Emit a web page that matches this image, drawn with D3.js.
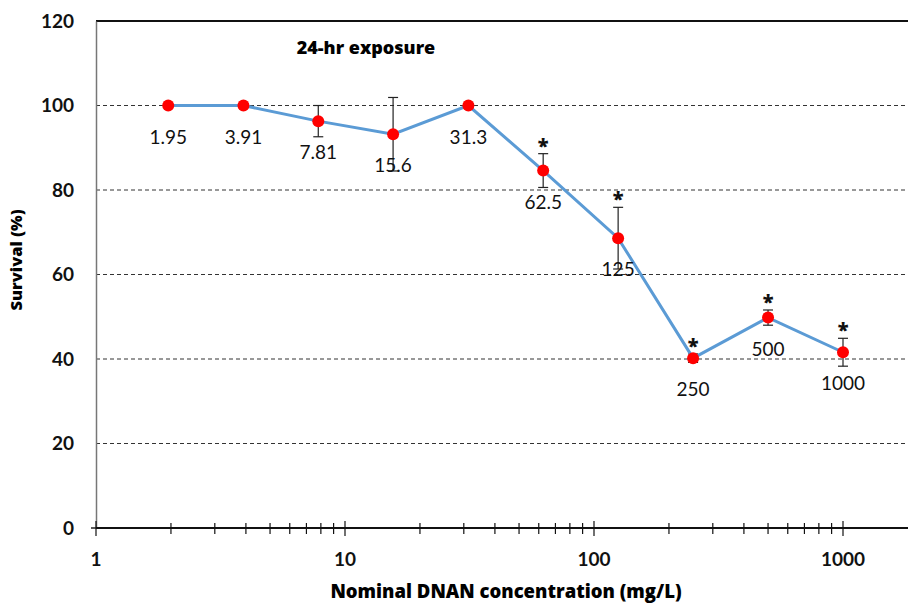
<!DOCTYPE html>
<html>
<head>
<meta charset="utf-8">
<script src="https://cdn.jsdelivr.net/npm/d3@7"></script>
<style>
  body { margin: 0; background: #fff; }
  svg { display: block; }
</style>
</head>
<body>
<div id="chart"></div>
<script>
// Data --------------------------------------------------
const conc = [1.95, 3.91, 7.81, 15.6, 31.3, 62.5, 125, 250, 500, 1000];
const concLabels = ["1.95", "3.91", "7.81", "15.6", "31.3", "62.5", "125", "250", "500", "1000"];
const survival = [100, 100, 96.3, 93.2, 100, 84.6, 68.6, 40.2, 49.8, 41.6];
const errorBar = [0, 0, 3.7, 8.7, 0, 4.0, 7.3, 1.0, 1.8, 3.3];
const significant = [false, false, false, false, false, true, true, true, true, true];
const yTicks = [0, 20, 40, 60, 80, 100, 120];
const xTicks = [1, 10, 100, 1000];

// Layout ------------------------------------------------
const W = 908, H = 603;
const margin = { top: 21, left: 96, bottom: 75 };
const plotH = H - margin.top - margin.bottom;
const font = "Lato, 'Open Sans', sans-serif";
const titleFont = "'Open Sans', Lato, sans-serif";

const svg = d3.select("#chart").append("svg")
    .attr("width", W)
    .attr("height", H);

// log axis runs past the right edge, as in the original
const x = d3.scaleLog()
    .domain([1, 2000])
    .range([margin.left, margin.left + 249 * Math.log10(2000)]);
const y = d3.scaleLinear()
    .domain([0, 120])
    .range([margin.top + plotH, margin.top]);

// gridlines
svg.append("g")
    .selectAll("line")
    .data(yTicks.filter(d => d > 0 && d < 120))
    .enter().append("line")
    .attr("x1", margin.left).attr("x2", W)
    .attr("y1", d => y(d)).attr("y2", d => y(d))
    .attr("stroke", "#333")
    .attr("stroke-width", 1)
    .attr("stroke-dasharray", "4,3");

// top border (120 line)
svg.append("line")
    .attr("x1", margin.left).attr("x2", W)
    .attr("y1", y(120)).attr("y2", y(120))
    .attr("stroke", "#111")
    .attr("stroke-width", 2);

// y axis
const yAxis = svg.append("g")
    .attr("transform", "translate(" + margin.left + ",0)")
    .call(d3.axisLeft(y).tickValues(yTicks).tickSize(0).tickPadding(22));
yAxis.select(".domain").attr("stroke", "#777").attr("stroke-width", 1.5);
yAxis.selectAll("text")
    .style("font-family", font)
    .style("font-size", "19px")
    .style("font-weight", "bold")
    .attr("fill", "#111");
svg.append("line")
    .attr("x1", margin.left - 5).attr("x2", margin.left)
    .attr("y1", y(0)).attr("y2", y(0))
    .attr("stroke", "#222").attr("stroke-width", 1.5);

// x axis line with crossing ticks
const xAxisG = svg.append("g")
    .attr("transform", "translate(0," + y(0) + ")");
xAxisG.append("line")
    .attr("x1", margin.left).attr("x2", W)
    .attr("stroke", "#111").attr("stroke-width", 2);
const minorTicks = x.ticks().filter(d => d <= 1000);
xAxisG.selectAll(".tk")
    .data(minorTicks)
    .enter().append("line")
    .attr("class", "tk")
    .attr("x1", d => x(d)).attr("x2", d => x(d))
    .attr("y1", d => xTicks.includes(d) ? -7 : -5)
    .attr("y2", d => xTicks.includes(d) ? 8 : 6)
    .attr("stroke", "#111").attr("stroke-width", 1.2);
xAxisG.selectAll(".lbl")
    .data(xTicks)
    .enter().append("text")
    .attr("class", "lbl")
    .attr("x", d => x(d))
    .attr("y", 38)
    .attr("text-anchor", "middle")
    .style("font-family", font)
    .style("font-size", "19px")
    .style("font-weight", "bold")
    .attr("fill", "#111")
    .text(d => d);

// axis titles
svg.append("text")
    .attr("x", 506).attr("y", 598)
    .attr("text-anchor", "middle")
    .style("font-family", titleFont)
    .style("font-size", "18.5px")
    .style("font-weight", 800)
    .text("Nominal DNAN concentration (mg/L)");
svg.append("text")
    .attr("transform", "translate(22,260) rotate(-90)")
    .attr("text-anchor", "middle")
    .style("font-family", titleFont)
    .style("font-size", "16.5px")
    .style("font-weight", 800)
    .text("Survival (%)");

// chart title
svg.append("text")
    .attr("x", 366).attr("y", 54)
    .attr("text-anchor", "middle")
    .style("font-family", titleFont)
    .style("font-size", "18px")
    .style("font-weight", 800)
    .text("24-hr exposure");

const pts = conc.map((c, i) => ({ c: c, v: survival[i], e: errorBar[i], lab: concLabels[i], sig: significant[i] }));

// error bars
const eb = svg.append("g").selectAll("g")
    .data(pts.filter(d => d.e > 0))
    .enter().append("g")
    .attr("stroke", "#222").attr("stroke-width", 1.2);
eb.append("line")
    .attr("x1", d => x(d.c)).attr("x2", d => x(d.c))
    .attr("y1", d => y(d.v - d.e)).attr("y2", d => y(d.v + d.e));
eb.append("line")
    .attr("x1", d => x(d.c) - 5).attr("x2", d => x(d.c) + 5)
    .attr("y1", d => y(d.v + d.e)).attr("y2", d => y(d.v + d.e));
eb.append("line")
    .attr("x1", d => x(d.c) - 5).attr("x2", d => x(d.c) + 5)
    .attr("y1", d => y(d.v - d.e)).attr("y2", d => y(d.v - d.e));

// line
svg.append("path")
    .datum(pts)
    .attr("fill", "none")
    .attr("stroke", "#5b9bd5")
    .attr("stroke-width", 3)
    .attr("d", d3.line().x(d => x(d.c)).y(d => y(d.v)));

// markers
svg.append("g").selectAll("circle")
    .data(pts)
    .enter().append("circle")
    .attr("cx", d => x(d.c))
    .attr("cy", d => y(d.v))
    .attr("r", 6)
    .attr("fill", "#ff0000");

// data labels, below each point
svg.append("g").selectAll("text")
    .data(pts)
    .enter().append("text")
    .attr("x", d => x(d.c))
    .attr("y", d => y(d.v) + 38)
    .attr("text-anchor", "middle")
    .style("font-family", font)
    .style("font-size", "19px")
    .attr("fill", "#111")
    .text(d => d.lab);

// significance asterisks
svg.append("g").selectAll("text")
    .data(pts.filter(d => d.sig))
    .enter().append("text")
    .attr("x", d => x(d.c))
    .attr("y", d => y(d.v + d.e) - 1)
    .attr("text-anchor", "middle")
    .style("font-family", titleFont)
    .style("font-size", "20px")
    .style("font-weight", 800)
    .attr("fill", "#111")
    .text("*");
</script>
</body>
</html>
